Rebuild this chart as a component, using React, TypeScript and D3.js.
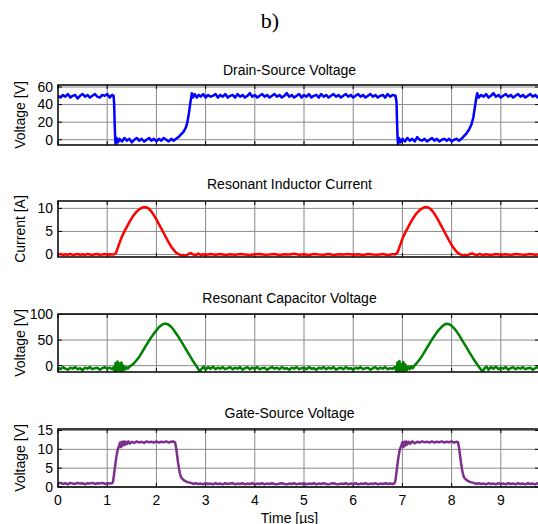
import React from "react";
import * as d3 from "d3";

type P = [number, number];

const xTicks = [0, 1, 2, 3, 4, 5, 6, 7, 8, 9];
const xLabel = "Time [µs]";
const figLabel = "b)";

const titles = ["Drain-Source Voltage", "Resonant Inductor Current", "Resonant Capacitor Voltage", "Gate-Source Voltage"];
const yLabels = ["Voltage [V]", "Current [A]", "Voltage [V]", "Voltage [V]"];
const yTicks = [[0, 20, 40, 60], [0, 5, 10], [0, 50, 100], [0, 5, 10, 15]];
const yDomains: P[] = [[-6, 62.3], [-0.55, 11.6], [-12.5, 101], [0, 15.4]];
const colors = ["#0000ff", "#ff0000", "#008000", "#7e2f8e"];

const vds: P[] = [
  [0,50],[0.05,48],[0.1,51],[0.15,49],[0.2,52],[0.25,48],[0.3,50],[0.35,51],[0.4,47],[0.45,50],[0.5,52],[0.55,49],[0.6,51],[0.65,48],[0.7,50],[0.75,52],[0.8,49],[0.85,48],[0.9,51],[0.95,50],[1.0,52],[1.05,48],[1.1,51],[1.13,50],
  [1.14,42],[1.15,22],[1.16,4],[1.17,-5],[1.19,2],[1.22,-3],
  [1.25,1],[1.3,-2],[1.35,2],[1.4,-1],[1.45,1],[1.5,-3],[1.55,0],[1.6,2],[1.65,-1],[1.7,1],[1.75,-2],[1.8,0],[1.85,2],[1.9,-1],[1.95,1],[2.0,-2],[2.05,1],[2.1,-1],[2.15,2],[2.2,0],[2.25,-2],[2.3,1],[2.35,-1],[2.4,1],
  [2.45,3],[2.5,6],[2.55,9],[2.6,14],[2.63,20],[2.66,30],[2.69,42],[2.72,53],[2.74,48],
  [2.78,52],[2.82,48],[2.86,51],[2.9,49],[2.95,52],[3.0,48],[3.05,51],[3.1,49],[3.15,50],[3.2,52],[3.25,48],[3.3,51],[3.35,49],[3.4,52],[3.45,48],[3.5,50],[3.55,51],[3.6,48],[3.65,52],[3.7,49],[3.75,51],[3.8,48],[3.85,50],[3.9,53],[3.95,49],[4.0,51],[4.05,48],[4.1,50],[4.15,52],[4.2,49],[4.25,51],[4.3,48],[4.35,50],[4.4,52],[4.45,49],[4.5,51],[4.55,48],[4.6,50],[4.65,53],[4.7,49],[4.75,51],[4.8,48],[4.85,50],[4.9,52],[4.95,48],[5.0,51],[5.05,49],[5.1,52],[5.15,48],[5.2,50],[5.25,51],[5.3,48],[5.35,52],[5.4,49],[5.45,51],[5.5,48],[5.55,50],[5.6,52],[5.65,49],[5.7,51],[5.75,48],[5.8,50],[5.85,52],[5.9,49],[5.95,51],[6.0,48],[6.05,50],[6.1,52],[6.15,49],[6.2,51],[6.25,48],[6.3,50],[6.35,52],[6.4,49],[6.45,51],[6.5,48],[6.55,50],[6.6,51],[6.65,48],[6.7,52],[6.75,49],[6.8,51],[6.86,50],
  [6.88,43],[6.89,22],[6.9,4],[6.91,-5],[6.93,2],[6.96,-3],
  [7.0,1],[7.05,-2],[7.1,2],[7.15,-1],[7.2,1],[7.25,-2],[7.3,3],[7.35,0],[7.4,-1],[7.45,1],[7.5,-2],[7.55,0],[7.6,2],[7.65,-1],[7.7,1],[7.75,-2],[7.8,0],[7.85,1],[7.9,-1],[7.95,1],[8.0,-2],[8.05,0],[8.1,1],[8.15,-1],[8.2,1],
  [8.25,4],[8.3,7],[8.35,11],[8.4,17],[8.44,25],[8.47,36],[8.5,47],[8.52,53],[8.55,48],
  [8.6,51],[8.65,49],[8.7,52],[8.75,48],[8.8,50],[8.85,53],[8.9,49],[8.95,51],[9.0,48],[9.05,50],[9.1,52],[9.15,49],[9.2,51],[9.25,48],[9.3,50],[9.35,52],[9.4,49],[9.45,51],[9.5,48],[9.55,50],[9.6,52],[9.65,49],[9.7,51],[9.75,48],[9.8,50],
];

const iLr: P[] = [
  [0,0],[0.05,0.1],[0.1,-0.1],[0.15,0.05],[0.2,-0.05],[0.25,0.1],[0.3,-0.1],[0.35,0],[0.4,0.1],[0.45,-0.05],[0.5,0.05],[0.55,-0.1],[0.6,0.1],[0.65,0],[0.7,-0.1],[0.75,0.05],[0.8,0.1],[0.85,-0.05],[0.9,0],[0.95,0.1],[1.0,-0.1],[1.05,0.05],[1.1,0],[1.15,0.05],
  [1.18,0.4],[1.22,1.6],[1.26,2.8],[1.3,3.9],[1.35,5.0],[1.4,6.0],[1.45,7.0],[1.5,7.9],[1.55,8.7],[1.6,9.3],[1.65,9.8],[1.7,10.1],[1.75,10.3],[1.8,10.2],[1.85,9.9],[1.9,9.3],[1.95,8.5],[2.0,7.6],[2.05,6.6],[2.1,5.6],[2.15,4.6],[2.2,3.6],[2.25,2.6],[2.3,1.7],[2.35,1.0],[2.4,0.4],[2.45,0.05],
  [2.5,-0.2],[2.55,-0.1],[2.6,-0.25],[2.65,0.1],[2.7,0.3],[2.75,0],[2.8,-0.15],[2.85,0.2],[2.9,-0.1],[2.95,0.05],[3.0,-0.1],[3.1,0.1],[3.2,-0.05],[3.3,0.1],[3.4,-0.1],[3.5,0.05],[3.6,-0.05],[3.7,0.1],[3.8,0],[3.9,-0.1],[4.0,0.05],[4.1,0.1],[4.2,-0.05],[4.3,0],[4.4,0.1],[4.5,-0.1],[4.6,0.05],[4.7,0],[4.8,0.15],[4.9,-0.05],[5.0,0.05],[5.1,-0.1],[5.2,0.1],[5.3,0],[5.4,-0.05],[5.5,0.1],[5.6,-0.1],[5.7,0.05],[5.8,0],[5.9,0.1],[6.0,-0.05],[6.1,0.05],[6.2,-0.1],[6.3,0.1],[6.4,0],[6.5,-0.05],[6.6,0.1],[6.7,-0.1],[6.8,0.05],[6.86,0.05],
  [6.9,0.4],[6.94,1.6],[6.98,2.8],[7.02,3.9],[7.07,5.0],[7.12,6.0],[7.17,7.0],[7.22,7.9],[7.27,8.7],[7.32,9.3],[7.37,9.8],[7.42,10.1],[7.47,10.3],[7.52,10.2],[7.57,9.9],[7.62,9.3],[7.67,8.5],[7.72,7.6],[7.77,6.6],[7.82,5.6],[7.87,4.6],[7.92,3.6],[7.97,2.6],[8.02,1.7],[8.07,1.0],[8.12,0.4],[8.17,0.05],
  [8.22,-0.2],[8.27,-0.1],[8.32,-0.2],[8.37,0.1],[8.42,0.2],[8.47,0],[8.52,-0.15],[8.57,0.15],[8.62,-0.1],[8.7,0.05],[8.8,-0.1],[8.9,0.1],[9.0,-0.05],[9.1,0.05],[9.2,-0.1],[9.3,0.1],[9.4,0],[9.5,-0.05],[9.6,0.1],[9.7,-0.05],[9.8,0.05],
];

const vCr: P[] = [
  [0,-4],[0.05,-7],[0.1,-3],[0.15,-6],[0.2,-8],[0.25,-4],[0.3,-6],[0.35,-3],[0.4,-7],[0.45,-5],[0.5,-9],[0.55,-4],[0.6,-6],[0.65,-3],[0.7,-7],[0.75,-5],[0.8,-4],[0.85,-8],[0.9,-5],[0.95,-3],[1.0,-6],[1.05,-4],[1.1,-7],[1.13,-3],
  [1.15,-10],[1.17,5],[1.19,-12],[1.21,8],[1.23,-8],[1.25,4],[1.27,-13],[1.29,6],[1.31,-10],[1.33,0],[1.36,-8],[1.39,-3],[1.42,-6],[1.45,-2],
  [1.5,1],[1.55,5],[1.6,11],[1.65,17],[1.7,25],[1.75,33],[1.8,41],[1.85,49],[1.9,56],[1.95,63],[2.0,69],[2.05,75],[2.1,79],[2.15,82],[2.2,82],[2.25,80],[2.3,76],[2.35,70],[2.4,63],[2.45,56],[2.5,48],[2.55,40],[2.6,32],[2.65,24],[2.7,16],[2.75,8],[2.8,1],[2.85,-6],[2.88,-12],
  [2.92,-6],[2.96,-2],[3.0,-8],[3.05,-3],[3.1,-6],[3.15,-2],[3.2,-7],[3.25,-4],[3.3,-6],[3.35,-3],[3.4,-7],[3.45,-5],[3.5,-3],[3.55,-7],[3.6,-4],[3.65,-6],[3.7,-3],[3.75,-8],[3.8,-5],[3.85,-3],[3.9,-7],[3.95,-4],[4.0,-6],[4.05,-3],[4.1,-7],[4.15,-5],[4.2,-4],[4.25,-8],[4.3,-5],[4.35,-3],[4.4,-6],[4.45,-4],[4.5,-7],[4.55,-3],[4.6,-6],[4.65,-5],[4.7,-8],[4.75,-4],[4.8,-6],[4.85,-3],[4.9,-7],[4.95,-5],[5.0,-4],[5.05,-7],[5.1,-3],[5.15,-6],[5.2,-5],[5.25,-8],[5.3,-4],[5.35,-6],[5.4,-3],[5.45,-7],[5.5,-4],[5.55,-6],[5.6,-3],[5.65,-8],[5.7,-5],[5.75,-4],[5.8,-7],[5.85,-3],[5.9,-6],[5.95,-5],[6.0,-8],[6.05,-4],[6.1,-6],[6.15,-3],[6.2,-7],[6.25,-5],[6.3,-4],[6.35,-8],[6.4,-5],[6.45,-3],[6.5,-7],[6.55,-4],[6.6,-6],[6.65,-3],[6.7,-7],[6.75,-5],[6.8,-6],[6.85,-3],
  [6.88,-11],[6.9,6],[6.92,-13],[6.94,9],[6.96,-9],[6.98,3],[7.0,-12],[7.02,7],[7.04,-10],[7.06,2],[7.09,-9],[7.12,-2],[7.15,-7],[7.18,-1],[7.21,-5],
  [7.25,1],[7.3,6],[7.35,12],[7.4,19],[7.45,27],[7.5,35],[7.55,43],[7.6,51],[7.65,58],[7.7,65],[7.75,71],[7.8,76],[7.85,80],[7.9,82],[7.95,81],[8.0,78],[8.05,73],[8.1,67],[8.15,60],[8.2,52],[8.25,44],[8.3,36],[8.35,28],[8.4,20],[8.45,12],[8.5,5],[8.55,-2],[8.6,-8],[8.63,-12],
  [8.67,-5],[8.71,-2],[8.75,-8],[8.8,-3],[8.85,-6],[8.9,-2],[8.95,-7],[9.0,-4],[9.05,-6],[9.1,-3],[9.15,-8],[9.2,-5],[9.25,-3],[9.3,-7],[9.35,-4],[9.4,-6],[9.45,-3],[9.5,-7],[9.55,-5],[9.6,-4],[9.65,-8],[9.7,-5],[9.75,-3],[9.8,-6],
];

const vgs: P[] = [
  [0,0.9],[0.05,1.1],[0.1,0.8],[0.15,1.0],[0.2,0.7],[0.25,1.1],[0.3,0.9],[0.35,0.8],[0.4,1.1],[0.45,0.9],[0.5,1.0],[0.55,0.7],[0.6,1.0],[0.65,0.9],[0.7,1.1],[0.75,0.8],[0.8,1.0],[0.85,0.9],[0.9,1.1],[0.95,0.8],[1.0,1.0],[1.05,0.9],[1.1,1.0],
  [1.12,1.5],[1.14,3.5],[1.16,5.5],[1.18,7.5],[1.2,9.0],[1.22,10.2],[1.24,10.8],[1.26,11.8],[1.28,10.6],[1.3,12.0],[1.32,11.0],[1.34,12.1],[1.36,11.2],[1.38,12.0],[1.4,11.4],[1.43,12.1],[1.46,11.5],[1.5,12.0],[1.55,11.7],[1.6,12.1],[1.65,11.8],[1.7,12.0],[1.75,11.7],[1.8,12.1],[1.85,11.9],[1.9,12.0],[1.95,11.8],[2.0,12.1],[2.05,11.8],[2.1,12.0],[2.15,11.9],[2.2,12.1],[2.25,11.8],[2.3,12.0],[2.35,12.1],[2.38,11.8],
  [2.4,10.5],[2.42,8.5],[2.44,6.5],[2.46,4.8],[2.48,3.5],[2.5,2.6],[2.54,2.0],[2.58,1.6],[2.63,1.3],[2.7,1.1],[2.75,0.8],[2.8,1.0],[2.85,0.8],[2.9,0.9],
  [2.95,0.7],[3.0,1.0],[3.05,0.8],[3.1,0.9],[3.15,0.7],[3.2,1.0],[3.25,0.8],[3.3,0.9],[3.35,0.7],[3.4,1.0],[3.45,0.8],[3.5,0.9],[3.55,1.0],[3.6,0.7],[3.65,0.9],[3.7,0.8],[3.75,1.0],[3.8,0.7],[3.85,0.9],[3.9,0.8],[3.95,1.0],[4.0,0.7],[4.05,0.9],[4.1,0.8],[4.15,1.0],[4.2,0.7],[4.25,0.9],[4.3,0.8],[4.35,1.0],[4.4,0.8],[4.45,0.7],[4.5,0.9],[4.55,1.0],[4.6,0.8],[4.65,0.7],[4.7,0.9],[4.75,0.8],[4.8,1.0],[4.85,0.7],[4.9,0.9],[4.95,0.8],[5.0,1.0],[5.05,0.7],[5.1,0.9],[5.15,0.8],[5.2,1.0],[5.25,0.7],[5.3,0.9],[5.35,0.8],[5.4,1.0],[5.45,0.8],[5.5,0.7],[5.55,0.9],[5.6,1.0],[5.65,0.8],[5.7,0.7],[5.75,0.9],[5.8,0.8],[5.85,1.0],[5.9,0.7],[5.95,0.9],[6.0,0.8],[6.05,1.0],[6.1,0.7],[6.15,0.9],[6.2,0.8],[6.25,1.0],[6.3,0.7],[6.35,0.9],[6.4,0.8],[6.45,1.0],[6.5,0.7],[6.55,0.9],[6.6,0.8],[6.65,1.0],[6.7,0.8],[6.75,0.9],[6.8,0.8],[6.84,1.0],
  [6.86,1.8],[6.88,4.0],[6.9,6.0],[6.92,8.0],[6.94,9.5],[6.96,10.4],[6.98,11.0],[7.0,11.9],[7.02,10.6],[7.04,12.0],[7.06,11.0],[7.08,12.1],[7.1,11.3],[7.13,12.0],[7.16,11.5],[7.2,12.1],[7.25,11.6],[7.3,12.0],[7.35,11.8],[7.4,12.1],[7.45,11.9],[7.5,12.0],[7.55,11.8],[7.6,12.1],[7.65,11.8],[7.7,12.0],[7.75,11.9],[7.8,12.1],[7.85,11.8],[7.9,12.0],[7.95,11.9],[8.0,12.1],[8.05,11.8],[8.1,12.0],[8.13,11.9],
  [8.15,10.5],[8.17,8.5],[8.19,6.5],[8.21,4.8],[8.23,3.5],[8.25,2.6],[8.29,2.0],[8.33,1.6],[8.38,1.3],[8.45,1.1],[8.5,0.8],[8.55,1.0],[8.6,0.8],[8.65,0.9],[8.7,0.7],[8.75,1.0],[8.8,0.8],[8.85,0.9],[8.9,0.7],[8.95,1.0],[9.0,0.8],[9.05,0.9],[9.1,0.7],[9.15,1.0],[9.2,0.8],[9.25,0.9],[9.3,0.7],[9.35,1.0],[9.4,0.8],[9.45,0.9],[9.5,0.7],[9.55,1.0],[9.6,0.8],[9.65,0.9],[9.7,0.7],[9.75,1.0],[9.8,0.8],
];

const series = [vds, iLr, vCr, vgs];

const W = 538, H = 524;
const L = 58, R = 539;
const panels = [
  { top: 85, bottom: 145, titleY: 75 },
  { top: 201, bottom: 257, titleY: 189 },
  { top: 314, bottom: 372, titleY: 303 },
  { top: 429, bottom: 487, titleY: 418 },
];
const FONT = "'Liberation Sans', Arial, sans-serif";

export default function App() {
  const x = d3.scaleLinear().domain([0, 9.776]).range([L, R]);
  const tl = 4;
  return (
    <svg width={W} height={H} style={{ position: "absolute", left: 0, top: 0, background: "#fff" }} fontFamily={FONT}>
      <rect x={0} y={0} width={W} height={H} fill="#fff" />
      <text x={270} y={28} textAnchor="middle" fontFamily="'Liberation Serif', 'Times New Roman', serif" fontSize={22}>{figLabel}</text>
      {panels.map((p, i) => {
        const y = d3.scaleLinear().domain(yDomains[i]).range([p.bottom, p.top]);
        const line = d3.line<P>().x(d => x(d[0])).y(d => y(d[1]));
        const clipId = `clip${i}`;
        return (
          <g key={i}>
            <defs>
              <clipPath id={clipId}>
                <rect x={L} y={p.top} width={R - L} height={p.bottom - p.top} />
              </clipPath>
            </defs>
            <text x={289.5} y={p.titleY} textAnchor="middle" fontSize={14}>{titles[i]}</text>
            {xTicks.filter(t => t > 0).map(t => (
              <line key={"gx" + t} x1={x(t)} x2={x(t)} y1={p.top} y2={p.bottom} stroke="#8a8a8a" strokeWidth={1} />
            ))}
            {yTicks[i].map(t => (
              <line key={"gy" + t} x1={L} x2={R} y1={y(t)} y2={y(t)} stroke="#8a8a8a" strokeWidth={1} />
            ))}
            {xTicks.map(t => (
              <g key={"tx" + t}>
                <line x1={x(t)} x2={x(t)} y1={p.bottom} y2={p.bottom - tl} stroke="#000" strokeWidth={1} />
                <line x1={x(t)} x2={x(t)} y1={p.top} y2={p.top + tl} stroke="#000" strokeWidth={1} />
              </g>
            ))}
            {yTicks[i].map(t => (
              <g key={"ty" + t}>
                <line x1={L} x2={L + tl} y1={y(t)} y2={y(t)} stroke="#000" strokeWidth={1} />
                <line x1={R} x2={R - tl} y1={y(t)} y2={y(t)} stroke="#000" strokeWidth={1} />
                <text x={53} y={y(t)} dy="0.35em" textAnchor="end" fontSize={14}>{t}</text>
              </g>
            ))}
            <path d={line(series[i]) || ""} fill="none" stroke={colors[i]} strokeWidth={2.5} strokeLinejoin="round" clipPath={`url(#${clipId})`} />
            <rect x={L} y={p.top} width={R - L} height={p.bottom - p.top} fill="none" stroke="#000" strokeWidth={1.5} />
            <text transform={`translate(25,${(p.top + p.bottom) / 2}) rotate(-90)`} textAnchor="middle" fontSize={14}>{yLabels[i]}</text>
            {i === 3 && xTicks.map(t => (
              <text key={"xl" + t} x={x(t)} y={505} textAnchor="middle" fontSize={14}>{t}</text>
            ))}
          </g>
        );
      })}
      <text x={289.5} y={523} textAnchor="middle" fontSize={14}>{xLabel}</text>
    </svg>
  );
}
